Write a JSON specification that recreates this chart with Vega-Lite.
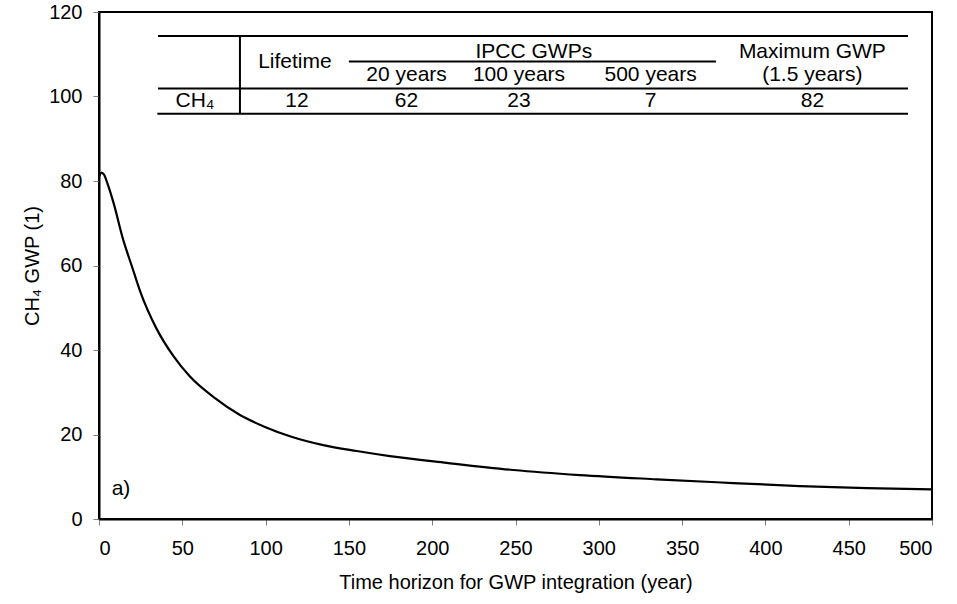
{
  "$schema": "https://vega.github.io/schema/vega-lite/v6.json",
  "width": 833,
  "height": 507,
  "autosize": {"type": "none"},
  "padding": {"left": 99, "top": 12, "right": 25, "bottom": 85},
  "background": "white",
  "config": {
    "font": "Liberation Sans",
    "view": {"stroke": "black", "strokeWidth": 2},
    "axis": {
      "domainColor": "black",
      "domainWidth": 2,
      "tickColor": "#808080",
      "tickWidth": 1,
      "tickSize": 6,
      "grid": false,
      "labelFont": "Liberation Sans",
      "labelFontSize": 20,
      "labelColor": "black",
      "titleFont": "Liberation Sans",
      "titleFontSize": 20,
      "titleFontWeight": "normal",
      "titleColor": "black"
    }
  },
  "datasets": {
    "curve": [
      {"t": 0, "gwp": 81.0},
      {"t": 1.5, "gwp": 82.0},
      {"t": 3, "gwp": 81.5},
      {"t": 5, "gwp": 79.5},
      {"t": 8.6, "gwp": 75.0},
      {"t": 14.6, "gwp": 66.0},
      {"t": 20, "gwp": 59.5},
      {"t": 24.6, "gwp": 54.0},
      {"t": 34.6, "gwp": 45.0},
      {"t": 44.6, "gwp": 38.6},
      {"t": 54.6, "gwp": 33.7},
      {"t": 69.6, "gwp": 28.6},
      {"t": 84.6, "gwp": 24.6},
      {"t": 99.6, "gwp": 21.8},
      {"t": 114.6, "gwp": 19.6},
      {"t": 134.6, "gwp": 17.5},
      {"t": 154.7, "gwp": 16.1},
      {"t": 174.6, "gwp": 14.9},
      {"t": 208.7, "gwp": 13.3},
      {"t": 248.7, "gwp": 11.6},
      {"t": 288.7, "gwp": 10.4},
      {"t": 334.7, "gwp": 9.4},
      {"t": 370.7, "gwp": 8.7},
      {"t": 420.7, "gwp": 7.8},
      {"t": 460.8, "gwp": 7.3},
      {"t": 500, "gwp": 7.0}
    ],
    "lines": [
      {"x1": 35.4, "x2": 485.6, "y1": 114.3, "y2": 114.3},
      {"x1": 150.0, "x2": 370.3, "y1": 108.3, "y2": 108.3},
      {"x1": 35.4, "x2": 485.6, "y1": 101.9, "y2": 101.9},
      {"x1": 35.0, "x2": 485.6, "y1": 95.9, "y2": 95.9},
      {"x1": 84.6, "x2": 84.6, "y1": 114.3, "y2": 95.9}
    ],
    "cells": [
      {"x": 117.6, "y": 108.2, "label": "Lifetime"},
      {"x": 261.0, "y": 110.6, "label": "IPCC GWPs"},
      {"x": 184.6, "y": 105.1, "label": "20 years"},
      {"x": 252.1, "y": 105.1, "label": "100 years"},
      {"x": 331.1, "y": 105.1, "label": "500 years"},
      {"x": 428.2, "y": 110.6, "label": "Maximum GWP"},
      {"x": 428.2, "y": 105.1, "label": "(1.5 years)"},
      {"x": 57.6, "y": 99.0, "label": "CH₄"},
      {"x": 118.8, "y": 99.0, "label": "12"},
      {"x": 184.6, "y": 99.0, "label": "62"},
      {"x": 252.1, "y": 99.0, "label": "23"},
      {"x": 331.1, "y": 99.0, "label": "7"},
      {"x": 428.2, "y": 99.0, "label": "82"},
      {"x": 13.2, "y": 7.2, "label": "a)"}
    ]
  },
  "layer": [
    {
      "data": {"name": "curve"},
      "mark": {"type": "line", "color": "black", "strokeWidth": 2.2, "interpolate": "monotone", "clip": true},
      "encoding": {
        "x": {
          "field": "t", "type": "quantitative",
          "scale": {"domain": [0, 500], "nice": false},
          "axis": {"values": [0, 50, 100, 150, 200, 250, 300, 350, 400, 450, 500], "labelPadding": 13, "title": "Time horizon for GWP integration (year)", "titlePadding": 14}
        },
        "y": {
          "field": "gwp", "type": "quantitative",
          "scale": {"domain": [0, 120], "nice": false},
          "axis": {"values": [0, 20, 40, 60, 80, 100, 120], "labelPadding": 11, "title": "CH₄ GWP (1)", "titlePadding": 6}
        }
      }
    },
    {
      "data": {"name": "lines"},
      "mark": {"type": "rule", "color": "black", "strokeWidth": 2},
      "encoding": {
        "x": {"field": "x1", "type": "quantitative"},
        "x2": {"field": "x2"},
        "y": {"field": "y1", "type": "quantitative"},
        "y2": {"field": "y2"}
      }
    },
    {
      "data": {"name": "cells"},
      "mark": {"type": "text", "font": "Liberation Sans", "fontSize": 21, "color": "black", "align": "center", "baseline": "middle"},
      "encoding": {
        "x": {"field": "x", "type": "quantitative"},
        "y": {"field": "y", "type": "quantitative"},
        "text": {"field": "label"}
      }
    }
  ]
}
